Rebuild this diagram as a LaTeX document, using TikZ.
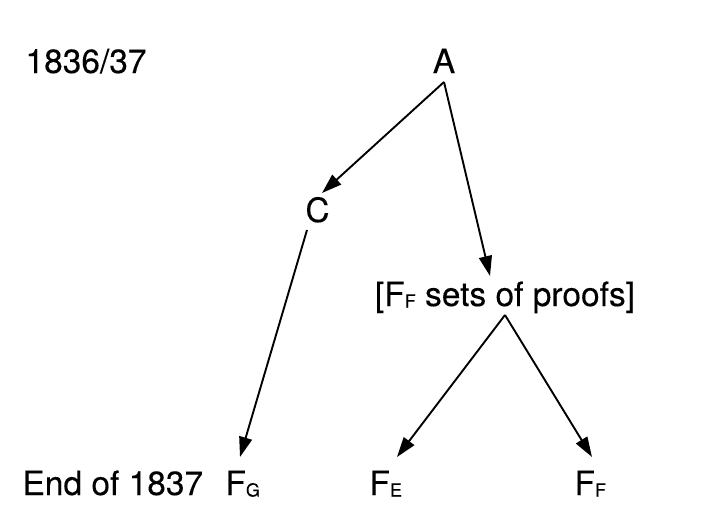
\documentclass[tikz,border=0pt]{standalone}
\usepackage{fontspec}
\setmainfont{TeX Gyre Heros}
\newfontfamily\hvfont[FakeBold=0.15]{TeX Gyre Heros}
\usetikzlibrary{arrows.meta}
\newcommand{\subl}[1]{{\fontsize{18pt}{18pt}\selectfont\raisebox{-1.5pt}{#1}}}
\begin{document}
\begin{tikzpicture}[x=1pt,y=-1pt,
  lbl/.style={inner sep=0pt,outer sep=0pt,font=\hvfont\fontsize{33.5pt}{36pt}\selectfont,text=black},
  arr/.style={draw=black,line width=1.9pt,-{Triangle[length=20pt,width=13pt]}}]
\useasboundingbox[fill=white] (0,0) rectangle (719,511);
\node[lbl,anchor=base west] (yr1) at (25.5,73) {1836/37};
\node[lbl,anchor=base west] (yr2) at (22.5,495) {End of 1837};
\node[lbl,anchor=base] (A) at (444,73) {A};
\node[lbl,anchor=base] (C) at (317.5,222) {C};
\node[lbl,anchor=base] (B) at (505,306) {[F\subl{F} sets of proofs]};
\node[lbl,anchor=base west] (FG) at (225.5,495) {F\subl{G}};
\node[lbl,anchor=base west] (FE) at (369.5,495) {F\subl{E}};
\node[lbl,anchor=base west] (FF) at (574.5,495) {F\subl{F}};
\draw[arr] ([yshift=-9pt]A.base) -- ([xshift=4.5pt,yshift=29pt]C.base);
\draw[arr] ([yshift=-9pt]A.base) -- ([xshift=-15pt,yshift=30pt]B.base);
\draw[arr] ([xshift=-10.5pt,yshift=-8pt]C.base) -- ([xshift=14.5pt,yshift=38pt]FG.base west);
\draw[arr] ([yshift=-9pt]B.base) -- ([xshift=27.5pt,yshift=38pt]FE.base west);
\draw[arr] ([yshift=-9pt]B.base) -- ([xshift=17.5pt,yshift=38pt]FF.base west);
\end{tikzpicture}
\end{document}
